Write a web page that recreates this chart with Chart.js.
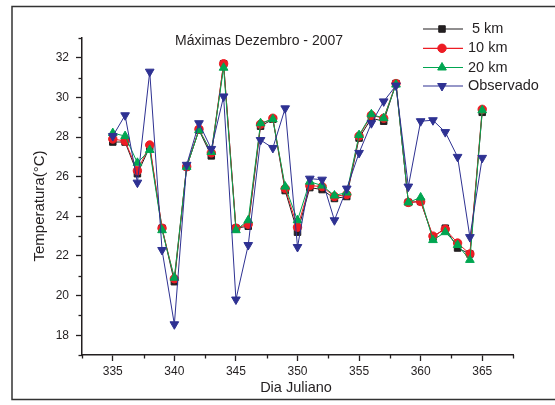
<!DOCTYPE html>
<html>
<head>
<meta charset="utf-8">
<script src="https://cdn.jsdelivr.net/npm/chart.js@4.4.1/dist/chart.umd.min.js"></script>
<style>
  html, body { margin: 0; padding: 0; background: #fff; overflow: hidden; }
  #wrap { width: 555px; height: 405px; position: relative; overflow: hidden; }
  canvas { display: block; }
</style>
</head>
<body>
<div id="wrap"><canvas id="c" width="555" height="405"></canvas></div>
<script>
// Dia juliano (dezembro de 2007)
const dias = [335,336,337,338,339,340,341,342,343,344,345,346,347,348,349,350,
              351,352,353,354,355,356,357,358,359,360,361,362,363,364,365];

// Temperatura máxima (°C) simulada em cada resolução e observada
const km5 = [27.75,27.75,26.15,27.5,23.4,20.7,26.5,28.35,27.05,31.7,23.4,23.5,28.55,28.9,25.3,23.2,
             25.45,25.35,24.9,25.0,27.95,28.95,28.8,30.7,24.7,24.75,22.95,23.4,22.4,22.1,29.25];
const km10 = [27.9,27.8,26.3,27.6,23.4,20.85,26.5,28.4,27.2,31.7,23.4,23.6,28.65,28.95,25.4,23.45,
              25.55,25.5,25.0,25.1,28.05,29.1,28.95,30.7,24.7,24.75,23.0,23.35,22.65,22.1,29.4];
const km20 = [28.2,28.05,26.7,27.35,23.3,20.9,26.5,28.35,27.25,31.5,23.3,23.8,28.7,28.9,25.5,23.8,
              25.75,25.55,25.05,25.2,28.1,29.15,28.95,30.65,24.7,24.95,22.8,23.2,22.55,21.8,29.35];
const observado = [28.05,29.1,25.7,31.3,22.3,18.55,26.6,28.7,27.4,30.05,19.8,22.55,27.85,27.45,29.45,22.45,
                   25.9,25.85,23.8,25.4,27.2,28.7,29.8,30.6,25.5,28.8,28.85,28.25,27.0,22.95,26.95];

const serieNomes = [' 5 km', '10 km', '20 km', 'Observado'];
const titulo = 'Máximas Dezembro - 2007';
const eixoX = 'Dia Juliano';
const eixoY = 'Temperatura(°C)';

const xTicksRotulados = [335, 340, 345, 350, 355, 360, 365];
const yTicksRotulados = [18, 20, 22, 24, 26, 28, 30, 32];

const FONT = '"Liberation Sans", Arial, sans-serif';
const INK = '#231f20';

const estilos = [
  { color: '#231f20', point: 'rect', radius: 4.6, rotation: 0 },
  { color: '#ed1c24', point: 'circle', radius: 4.2, rotation: 0 },
  { color: '#00a651', point: 'triangle', radius: 5, rotation: 0 },
  { color: '#2e3192', point: 'triangle', radius: 5, rotation: 180 }
];
const series = [km5, km10, km20, observado];

const datasets = series.map((vals, i) => ({
  label: serieNomes[i],
  data: dias.map((d, k) => ({ x: d, y: vals[k] })),
  borderColor: estilos[i].color,
  backgroundColor: estilos[i].color,
  pointBackgroundColor: estilos[i].color,
  pointBorderColor: estilos[i].color,
  pointStyle: estilos[i].point,
  pointRadius: estilos[i].radius,
  pointRotation: estilos[i].rotation,
  pointBorderWidth: 1,
  borderWidth: 1,
  tension: 0,
  order: 4 - i
}));

// Moldura, ticks menores, título, rótulos de eixo e legenda
const decoracao = {
  id: 'decoracao',
  beforeDraw(chart) {
    const ctx = chart.ctx;
    ctx.save();
    ctx.fillStyle = '#fff';
    ctx.fillRect(0, 0, chart.width, chart.height);
    // moldura aberta à direita
    ctx.strokeStyle = '#333';
    ctx.lineWidth = 1.5;
    ctx.beginPath();
    ctx.moveTo(chart.width, 6.5);
    ctx.lineTo(12, 6.5);
    ctx.lineTo(12, 399.5);
    ctx.lineTo(chart.width, 399.5);
    ctx.stroke();
    ctx.restore();
  },
  afterDraw(chart) {
    const ctx = chart.ctx;
    const xs = chart.scales.x, ys = chart.scales.y;
    const area = chart.chartArea;
    ctx.save();
    ctx.strokeStyle = INK;
    ctx.lineWidth = 1.3;
    // ticks menores
    xs.ticks.forEach(t => {
      if (!xTicksRotulados.includes(t.value)) {
        const px = Math.round(xs.getPixelForValue(t.value)) + 0.5;
        ctx.beginPath(); ctx.moveTo(px, area.bottom); ctx.lineTo(px, area.bottom + 3.5); ctx.stroke();
      }
    });
    ys.ticks.forEach(t => {
      if (!yTicksRotulados.includes(t.value)) {
        const py = Math.round(ys.getPixelForValue(t.value)) + 0.5;
        ctx.beginPath(); ctx.moveTo(area.left, py); ctx.lineTo(area.left - 3.5, py); ctx.stroke();
      }
    });

    ctx.fillStyle = INK;
    ctx.textBaseline = 'middle';
    // título
    ctx.font = '14px ' + FONT;
    ctx.textAlign = 'center';
    ctx.fillText(titulo, 259, 41);
    // rótulos dos eixos
    ctx.font = '14.5px ' + FONT;
    ctx.fillText(eixoX, 296, 388);
    ctx.save();
    ctx.translate(40, 206);
    ctx.rotate(-Math.PI / 2);
    ctx.font = '15px ' + FONT;
    ctx.fillText(eixoY, 0, 0);
    ctx.restore();

    // legenda
    ctx.font = '14.5px ' + FONT;
    ctx.textAlign = 'left';
    const linhas = [29, 48.3, 67.5, 86];
    chart.data.datasets.forEach((ds, i) => {
      const y = linhas[i];
      ctx.strokeStyle = ds.borderColor;
      ctx.lineWidth = 1.2;
      ctx.beginPath(); ctx.moveTo(423, y); ctx.lineTo(463, y); ctx.stroke();
      ctx.fillStyle = ds.borderColor;
      ctx.strokeStyle = ds.borderColor;
      ctx.lineWidth = 1;
      Chart.helpers.drawPoint(ctx, {
        pointStyle: ds.pointStyle,
        rotation: ds.pointRotation,
        radius: ds.pointRadius,
        borderWidth: 1
      }, 442, y);
      ctx.fillStyle = INK;
      ctx.fillText(ds.label, 468, y);
    });
    ctx.restore();
  }
};

new Chart(document.getElementById('c'), {
  type: 'line',
  data: { datasets },
  options: {
    responsive: false,
    animation: false,
    devicePixelRatio: 1,
    layout: { padding: { left: 0, top: 38, right: 42, bottom: 0 } },
    plugins: { legend: { display: false }, title: { display: false }, tooltip: { enabled: false } },
    scales: {
      x: {
        type: 'linear',
        min: 332.5,
        max: 367.5,
        afterFit: s => { s.height = 50; },
        ticks: {
          stepSize: 2.5,
          autoSkip: false,
          maxRotation: 0,
          padding: 3,
          color: INK,
          font: { family: FONT, size: 12 },
          callback: v => xTicksRotulados.includes(v) ? String(v) : ''
        },
        grid: {
          drawOnChartArea: false,
          drawTicks: true,
          tickLength: 6,
          tickWidth: 1.3,
          tickColor: c => (c.tick && xTicksRotulados.includes(c.tick.value)) ? INK : 'rgba(0,0,0,0)'
        },
        border: { display: true, color: INK, width: 1.5 }
      },
      y: {
        type: 'linear',
        min: 17,
        max: 33,
        afterFit: s => { s.width = 82; },
        ticks: {
          stepSize: 1,
          autoSkip: false,
          padding: 7,
          color: INK,
          font: { family: FONT, size: 12 },
          callback: v => yTicksRotulados.includes(v) ? String(v) : ''
        },
        grid: {
          drawOnChartArea: false,
          drawTicks: true,
          tickLength: 6,
          tickWidth: 1.3,
          tickColor: c => (c.tick && yTicksRotulados.includes(c.tick.value)) ? INK : 'rgba(0,0,0,0)'
        },
        border: { display: true, color: INK, width: 1.5 }
      }
    }
  },
  plugins: [decoracao]
});
</script>
</body>
</html>
